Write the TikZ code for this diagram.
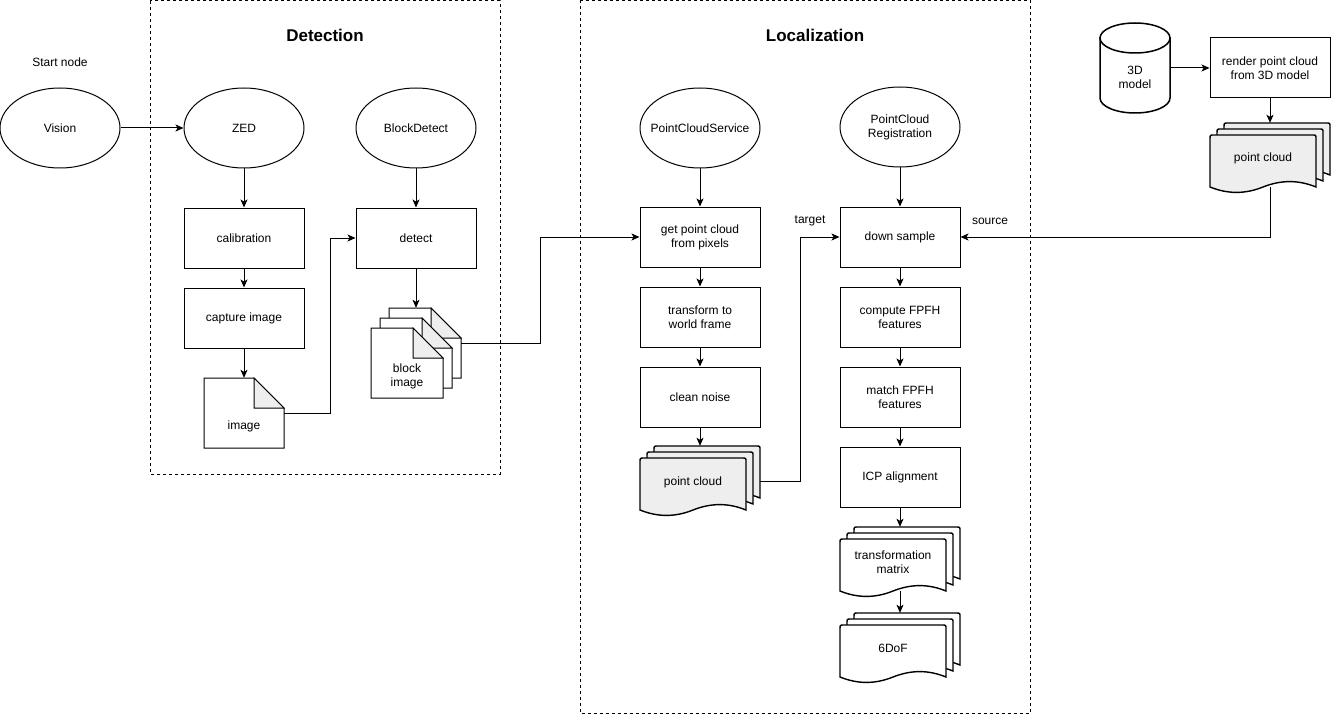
\documentclass[tikz,border=0pt]{standalone}
\usepackage{fontspec}
\setmainfont{Liberation Sans}
\usetikzlibrary{shapes.geometric,arrows.meta,calc}
\definecolor{docfill}{HTML}{EEEEEE}
\definecolor{foldfill}{HTML}{EEEEEE}
% one wavy document, top-left at (#1,#2), 106 x 58, fill #3
\newcommand\onedoc[3]{%
  \filldraw[docsty,fill=#3] ({#1},{#2+52}) -- ({#1},{#2+4}) .. controls ({#1},{#2}) .. ({#1+4},{#2})
    -- ({#1+102},{#2}) .. controls ({#1+106},{#2}) .. ({#1+106},{#2+4})
    -- ({#1+106},{#2+52})
    .. controls ({#1+88.33},{#2+44.8}) and ({#1+71.33},{#2+44.8}) .. ({#1+53},{#2+52})
    .. controls ({#1+35.33},{#2+59.2}) and ({#1+17.67},{#2+59.2}) .. ({#1},{#2+52}) -- cycle;}
% stack of three documents in a 120 x 70 box, top-left at (#1,#2), fill #3
\newcommand\docstack[3]{%
  \onedoc{#1+14}{#2}{#3}\onedoc{#1+7}{#2+6}{#3}\onedoc{#1}{#2+12}{#3}}
% note with folded corner, top-left (#1,#2), width #3, height #4
\newcommand\notesh[4]{%
  \filldraw[fill=white,line width=1pt] ({#1},{#2}) -- ({#1+#3-30},{#2}) -- ({#1+#3},{#2+30})
    -- ({#1+#3},{#2+#4}) -- ({#1},{#2+#4}) -- cycle;
  \filldraw[fill=foldfill,line width=1pt] ({#1+#3-30},{#2}) -- ({#1+#3-30},{#2+30}) -- ({#1+#3},{#2+30}) -- cycle;}
\begin{document}
\begin{tikzpicture}[x=1pt,y=-1pt,
  every node/.style={font=\fontsize{12}{14}\selectfont, align=center, inner sep=0pt},
  box/.style={draw, line width=1pt, minimum width=120pt, minimum height=60pt},
  ell/.style={draw, ellipse, line width=1pt, minimum width=120pt, minimum height=80pt},
  arr/.style={line width=1pt, -{Stealth[length=8pt,width=7pt,inset=2pt]}},
  frame/.style={draw, line width=1pt, dash pattern=on 3pt off 3pt},
  docsty/.style={draw=black, line width=1.4pt},
  title/.style={font=\fontsize{17}{20}\selectfont\bfseries}]
\useasboundingbox (0,0) rectangle (1332,714);

% frames
\draw[frame] (150,1) rectangle (500,474);
\draw[frame] (580,0.5) rectangle (1030,713);
\node[title] (dettitle) at (325,35) {Detection};
\node[title] (loctitle) at (815,35) {Localization};

% start
\node (startlbl) at (60,62) {Start node};
\node[ell] (vision) at (60,128) {Vision};

% detection
\node[ell] (zed) at (244,128) {ZED};
\node[ell] (bd) at (416,128) {BlockDetect};
\node[box] (calib) at (244,238) {calibration};
\node[box] (capture) at (244,318) {capture image};
\node[box] (detect) at (416,238) {detect};

\notesh{204}{378}{80}{70}
\node[minimum width=80pt, minimum height=70pt] (img) at (244,413) {};
\node (imgt) at (244,426) {image};

\notesh{389}{308}{72}{70}
\notesh{380}{318}{72}{70}
\notesh{371}{328}{72}{70}
\node[minimum width=72pt, minimum height=70pt] (bib) at (425,343) {};
\node (bit) at (407,376) {block\\image};

% localization
\node[ell] (pcs) at (700,128) {\makebox[0pt]{PointCloudService}};
\node[box] (getpc) at (700,237) {get point cloud\\from pixels};
\node[box] (trans) at (700,317) {transform to\\world frame};
\node[box] (clean) at (700,397) {clean noise};
\docstack{640}{446}{docfill}
\node[minimum width=120pt, minimum height=70pt] (pcm) at (700,481) {};
\node (pcmt) at (693,482) {point cloud};

\node[ell] (pcr) at (900,127) {PointCloud\\Registration};
\node[box] (down) at (900,237) {down sample};
\node[box] (fpfh) at (900,317) {compute FPFH\\features};
\node[box] (match) at (900,397) {match FPFH\\features};
\node[box] (icp) at (900,477) {ICP alignment};
\docstack{840}{527}{white}
\node[minimum width=120pt, minimum height=70pt] (tm) at (900,562) {};
\node (tmt) at (893,562) {transformation\\matrix};
\docstack{840}{613}{white}
\node[minimum width=120pt, minimum height=70pt] (dof) at (900,648) {};
\node (doft) at (893,648) {6DoF};

% 3D model side
\filldraw[fill=white, line width=1.5pt] (1100,38) -- (1100,98)
  .. controls (1100,106.28) and (1115.67,113) .. (1135,113)
  .. controls (1154.33,113) and (1170,106.28) .. (1170,98) -- (1170,38) -- cycle;
\filldraw[fill=white, line width=1.5pt] (1135,38) ellipse [x radius=35pt, y radius=15pt];
\node[minimum width=70pt, minimum height=90pt] (model) at (1135,68) {};
\node (modelt) at (1135,77) {3D\\model};
\node[box] (render) at (1270,68) {render point cloud\\from 3D model};
\docstack{1210}{123}{docfill}
\node[minimum width=120pt, minimum height=70pt] (rpc) at (1270,158) {};
\node (rpct) at (1263,158) {point cloud};

\node (targetlbl) at (810,221) {target};
\node (sourcelbl) at (990,221) {source};

% connectors
\draw[arr] (vision.east) -- (zed.west);
\draw[arr] (zed.south) -- (calib.north);
\draw[arr] (calib.south) -- (capture.north);
\draw[arr] (capture.south) -- (img.north);
\draw[arr] (img.east) -- ++(46,0) |- (detect.west);
\draw[arr] (bd.south) -- (detect.north);
\draw[arr] (detect.south) -- (detect.south |- bib.north);
\draw[arr] (bib.east) -- ++(79,0) |- (getpc.west);

\draw[arr] (pcs.south) -- (getpc.north);
\draw[arr] (getpc.south) -- (trans.north);
\draw[arr] (trans.south) -- (clean.north);
\draw[arr] (clean.south) -- (pcm.north);
\draw[arr] (pcm.east) -- ++(40,0) |- (down.west);

\draw[arr] (pcr.south) -- (down.north);
\draw[arr] (down.south) -- (fpfh.north);
\draw[arr] (fpfh.south) -- (match.north);
\draw[arr] (match.south) -- (icp.north);
\draw[arr] (icp.south) -- (tm.north);
\draw[arr] ($(tm.south)+(0,-6)$) -- (dof.north);

\draw[arr] (model.east) -- (render.west);
\draw[arr] (render.south) -- (rpc.north);
\draw[arr] ($(rpc.south)+(0,-6)$) |- (down.east);
\end{tikzpicture}
\end{document}
